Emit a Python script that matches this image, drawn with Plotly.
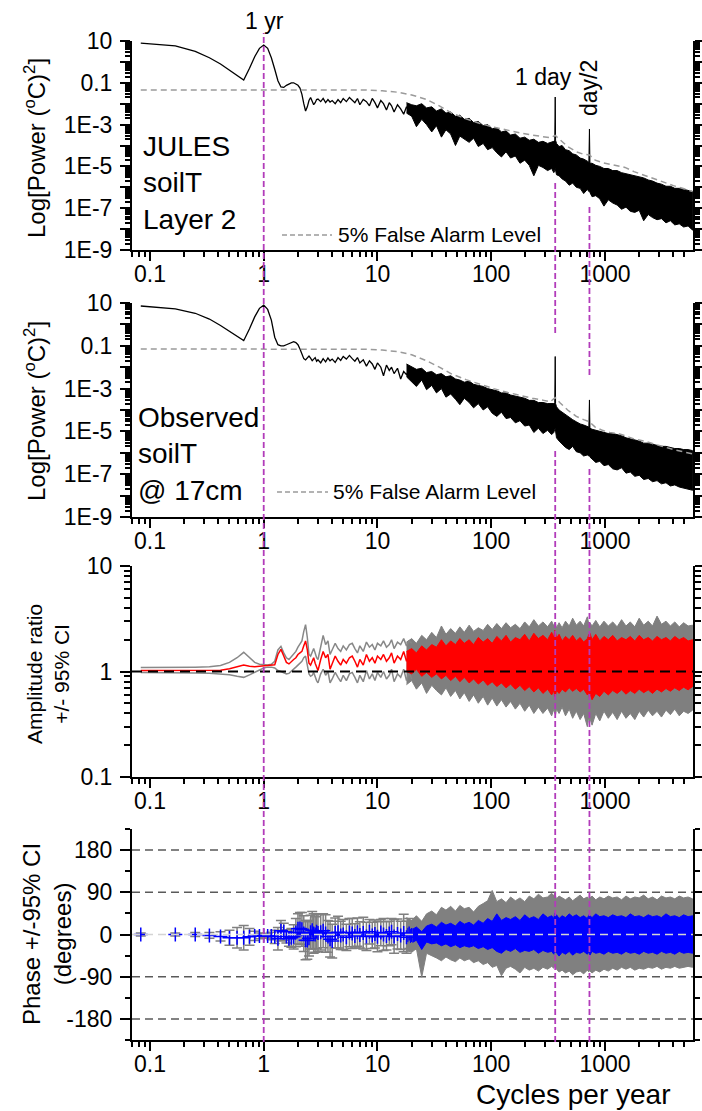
import numpy as np
import plotly.graph_objects as go

W, H = 702, 1111
FONT = "Liberation Sans, Arial, sans-serif"

# ---------------- data ----------------
# low-frequency part: frequencies (cycles per year)
lo_f = [0.083, 0.167, 0.25, 0.333, 0.417, 0.5, 0.583, 0.667, 0.75, 0.833, 0.917, 1.0,
        1.083, 1.167, 1.25, 1.333, 1.417, 1.5, 1.583, 1.667, 1.75, 1.833, 1.917, 2.0,
        2.083, 2.167, 2.25, 2.333, 2.417, 2.5, 2.583, 2.667, 2.75, 2.833, 2.917, 3.0,
        3.17, 3.33, 3.5, 3.67, 3.83, 4.0, 4.25, 4.5, 4.75, 5.0, 5.33, 5.67, 6.0, 6.33,
        6.67, 7.0, 7.5, 8.0, 8.5, 9.0, 9.5, 10.0, 10.7, 11.3, 12.0, 12.7, 13.3, 14.0,
        15.0, 16.0, 17.0, 18.0, 19.0, 20.0]

# log10 power, JULES soilT layer 2
jules_lo = [0.90, 0.77, 0.50, 0.20, -0.10, -0.39, -0.62, -0.87, -0.30, 0.25, 0.65, 0.81,
            0.65, 0.20, -0.35, -0.90, -1.20, -1.22, -1.12, -1.04, -1.00, -1.00, -1.05, -1.12,
            -1.25, -1.55, -2.00, -2.35, -2.15, -1.85, -1.70, -1.85, -2.05, -1.95, -1.80, -1.78,
            -1.90, -1.75, -1.95, -1.80, -1.92, -1.85, -2.00, -1.80, -1.95, -1.75,
            -1.90, -1.70, -1.85, -1.95, -1.75, -2.05, -1.80, -1.90, -2.10, -1.75,
            -1.95, -2.20, -1.85, -2.00, -2.30, -1.95, -2.10, -2.40, -2.05, -2.25,
            -2.50, -2.15, -2.35, -2.60]
# log10 power, observed soilT @ 17cm
obs_lo = [0.86, 0.73, 0.52, 0.25, -0.05, -0.34, -0.55, -0.76, -0.20, 0.35, 0.75, 0.90,
          0.70, 0.20, -0.60, -0.95, -1.00, -1.00, -0.95, -0.90, -0.83, -0.81, -0.85, -0.95,
          -1.15, -1.40, -1.60, -1.66, -1.55, -1.48, -1.58, -1.70, -1.62, -1.55, -1.72, -1.65,
          -1.80, -1.60, -1.75, -1.57, -1.70, -1.62, -1.78, -1.55, -1.68, -1.50,
          -1.62, -1.45, -1.60, -1.72, -1.55, -1.80, -1.65, -1.95, -1.70, -1.85,
          -2.10, -1.80, -2.00, -2.40, -1.90, -2.15, -2.00, -2.30, -2.05, -2.55,
          -2.20, -2.35, -2.10, -2.60]

# high-frequency (dense, noisy) part: frequencies
band_f = [18, 20, 22, 24.5, 27, 30, 33, 36.5, 40, 44, 48.5, 53, 58, 64, 70, 77, 85, 93, 102, 112,
          123, 135, 148, 163, 179, 197, 216, 237, 260, 285, 313, 340, 355, 362, 365.25, 368, 375,
          395, 420, 450, 485, 520, 560, 605, 650, 700, 722, 730.5, 738, 770, 830, 900, 980, 1070,
          1170, 1280, 1400, 1530, 1670, 1830, 2000, 2190, 2400, 2620, 2870, 3140, 3440, 3760,
          4110, 4500, 4920, 5380, 5900]

# log10 power envelopes (upper / lower) of the noisy spectrum, JULES
jules_hi = [-1.95, -2.05, -2.10, -2.00, -2.20, -2.15, -2.35, -2.25, -2.45, -2.40,
            -2.60, -2.55, -2.75, -2.70, -2.90, -2.85, -3.05, -3.00, -3.20, -3.15,
            -3.35, -3.30, -3.50, -3.45, -3.65, -3.60, -3.75, -3.70, -3.85, -3.80,
            -3.90, -3.85, -3.80, -3.75, -1.68, -3.75, -3.90, -4.05, -4.00, -4.20,
            -4.25, -4.40, -4.45, -4.60, -4.65, -4.75, -4.80, -3.21, -4.85, -4.85,
            -4.95, -5.00, -5.10, -5.10, -5.20, -5.20, -5.30, -5.35, -5.40, -5.45,
            -5.50, -5.55, -5.65, -5.70, -5.80, -5.85, -5.95, -5.95, -6.05, -6.05,
            -6.10, -6.15, -6.20]
jules_lw = [-2.45, -2.60, -3.10, -2.75, -3.00, -3.35, -3.05, -3.60, -3.25, -3.45,
            -4.00, -3.55, -3.70, -3.85, -3.65, -4.05, -3.90, -4.20, -4.10, -4.35,
            -4.55, -4.30, -4.60, -4.50, -4.85, -4.70, -4.95, -5.45, -4.95, -5.05,
            -5.20, -5.10, -5.30, -5.20, -5.10, -5.15, -5.40, -5.45, -5.60, -5.70,
            -5.90, -5.80, -6.00, -6.05, -6.30, -6.10, -6.20, -6.15, -6.25, -6.45,
            -6.40, -6.55, -6.90, -6.60, -6.75, -6.85, -7.05, -6.95, -7.15, -7.20,
            -7.10, -7.60, -7.30, -7.45, -7.55, -7.50, -7.70, -7.60, -7.80, -7.75,
            -7.90, -7.85, -8.05]
# observed
obs_hi = [-1.85, -2.00, -2.10, -2.05, -2.25, -2.20, -2.35, -2.30, -2.45, -2.40,
          -2.55, -2.60, -2.70, -2.65, -2.80, -2.85, -2.90, -3.00, -3.05, -3.10,
          -3.20, -3.20, -3.30, -3.35, -3.40, -3.45, -3.55, -3.55, -3.65, -3.65,
          -3.70, -3.72, -3.70, -3.65, -1.50, -3.70, -3.85, -4.00, -4.10, -4.25,
          -4.35, -4.45, -4.55, -4.65, -4.70, -4.75, -4.80, -3.53, -4.85, -4.90,
          -4.95, -5.00, -5.05, -5.10, -5.10, -5.15, -5.20, -5.30, -5.35, -5.40,
          -5.45, -5.55, -5.55, -5.60, -5.65, -5.70, -5.70, -5.75, -5.80, -5.80,
          -5.85, -5.85, -5.90]
obs_lw = [-2.45, -2.70, -2.90, -2.60, -3.05, -2.85, -3.20, -3.00, -3.40, -3.25,
          -3.50, -3.75, -3.45, -3.65, -3.90, -3.70, -4.00, -3.85, -4.15, -4.30,
          -4.10, -4.40, -4.35, -4.60, -4.50, -4.75, -4.70, -5.05, -4.85, -5.10,
          -4.95, -5.15, -5.05, -4.90, -4.85, -5.00, -5.30, -5.45, -5.60, -5.75,
          -5.85, -5.70, -5.95, -6.00, -6.15, -6.10, -6.15, -6.10, -6.20, -6.30,
          -6.45, -6.40, -6.60, -6.55, -6.75, -6.80, -6.70, -6.95, -6.90, -7.10,
          -7.05, -7.25, -7.20, -7.35, -7.30, -7.45, -7.40, -7.55, -7.50, -7.60,
          -7.65, -7.70, -7.75]

# 5% false alarm level (log10 power)
fal_f = [0.083, 5, 8, 11, 15, 20, 27, 35, 45, 60, 80, 105, 140, 180, 230, 290, 330, 365, 400,
         470, 560, 650, 730, 820, 950, 1100, 1300, 1500, 1800, 2200, 2700, 3300, 4000, 4800, 5900]
fal_jules = [-1.34, -1.34, -1.35, -1.38, -1.45, -1.58, -1.80, -2.10, -2.45, -2.72, -2.95, -3.12,
             -3.28, -3.40, -3.50, -3.60, -3.63, -3.52, -3.72, -4.05, -4.30, -4.42, -4.45, -4.70,
             -4.82, -4.90, -5.00, -5.05, -5.25, -5.42, -5.62, -5.78, -5.92, -6.05, -6.20]
fal_obs = [-1.15, -1.15, -1.16, -1.20, -1.27, -1.42, -1.70, -2.00, -2.32, -2.58, -2.80, -3.00,
           -3.18, -3.33, -3.45, -3.55, -3.62, -3.42, -3.65, -4.00, -4.30, -4.45, -4.55, -4.80,
           -4.95, -5.05, -5.10, -5.20, -5.35, -5.45, -5.60, -5.72, -5.85, -5.95, -6.05]

# amplitude ratio (low-frequency part): ratio and 95% CI bounds
amp_lo = [1.02, 1.02, 1.02, 1.02, 1.03, 1.06, 1.10, 1.15, 1.12, 1.11, 1.12, 1.13,
          1.13, 1.14, 1.16, 1.45, 1.62, 1.40, 1.22, 1.18, 1.25, 1.30, 1.35, 1.45,
          1.50, 1.55, 1.75, 1.95, 1.60, 1.20, 1.15, 1.25, 1.35, 1.20, 1.10, 1.02,
          1.30, 1.55, 1.35, 1.45, 1.05, 1.20, 1.40, 1.25, 1.15, 1.30,
          1.20, 1.35, 1.40, 1.25, 1.10, 1.30, 1.15, 1.45, 1.25, 1.35,
          1.20, 1.40, 1.30, 1.45, 1.25, 1.35, 1.50, 1.20, 1.40, 1.30,
          1.55, 1.25, 1.45, 1.30]
amp_lo_up = [1.09, 1.09, 1.10, 1.11, 1.14, 1.22, 1.35, 1.52, 1.35, 1.22, 1.17, 1.15,
             1.15, 1.17, 1.25, 1.60, 1.73, 1.50, 1.35, 1.30, 1.38, 1.45, 1.55, 1.70,
             1.80, 1.95, 2.40, 2.78, 2.10, 1.45, 1.40, 1.55, 1.65, 1.50, 1.35, 1.30,
             1.70, 2.20, 1.80, 1.95, 1.45, 1.60, 1.85, 1.65, 1.55, 1.75,
             1.60, 1.80, 1.85, 1.65, 1.50, 1.75, 1.55, 1.90, 1.70, 1.80,
             1.60, 1.85, 1.75, 1.95, 1.70, 1.80, 2.00, 1.65, 1.90, 1.80,
             2.05, 1.75, 1.95, 1.85]
amp_lo_dn = [0.98, 0.98, 0.97, 0.96, 0.95, 0.93, 0.90, 0.88, 0.93, 0.98, 1.03, 1.08,
             1.10, 1.10, 1.08, 1.02, 1.00, 0.98, 0.95, 0.96, 1.00, 1.05, 1.10, 1.15,
             1.20, 1.25, 1.35, 1.40, 1.15, 0.95, 0.90, 0.92, 0.98, 0.88, 0.82, 0.78,
             0.95, 1.05, 0.92, 1.00, 0.78, 0.85, 0.98, 0.88, 0.80, 0.92,
             0.82, 0.95, 0.98, 0.88, 0.78, 0.92, 0.80, 1.02, 0.85, 0.95,
             0.82, 0.98, 0.88, 1.00, 0.85, 0.92, 1.05, 0.80, 0.95, 0.88,
             1.05, 0.82, 0.98, 0.85]
# amplitude ratio envelopes in the dense part
amp_r_hi = [1.55, 1.65, 1.50, 1.75, 1.60, 1.80, 1.70, 2.00, 1.75, 1.95,
            1.80, 2.05, 1.85, 2.00, 1.80, 2.10, 1.90, 2.05, 1.85, 2.15,
            1.95, 2.20, 1.90, 2.10, 2.00, 2.25, 1.95, 2.30, 2.05, 2.20,
            2.00, 2.35, 2.10, 2.45, 2.20, 2.30, 2.05, 2.25, 1.95, 2.15,
            2.00, 2.20, 1.95, 2.10, 1.90, 2.05, 2.25, 2.10, 2.30, 2.00,
            2.25, 1.95, 2.15, 2.00, 2.20, 1.95, 2.10, 2.00, 2.15, 1.95,
            2.20, 2.00, 2.10, 1.95, 2.15, 2.00, 2.10, 1.95, 2.15, 2.00,
            2.10, 1.95, 2.00]
amp_r_lw = [1.00, 0.95, 1.05, 0.90, 0.98, 0.88, 0.95, 0.85, 0.92, 0.82,
            0.90, 0.80, 0.88, 0.78, 0.85, 0.76, 0.83, 0.74, 0.80, 0.72,
            0.78, 0.70, 0.76, 0.68, 0.74, 0.66, 0.72, 0.64, 0.70, 0.62,
            0.68, 0.60, 0.66, 0.58, 0.62, 0.60, 0.66, 0.62, 0.68, 0.64,
            0.70, 0.65, 0.69, 0.64, 0.68, 0.60, 0.64, 0.56, 0.62, 0.54,
            0.62, 0.58, 0.65, 0.60, 0.66, 0.62, 0.67, 0.61, 0.66, 0.62,
            0.68, 0.63, 0.67, 0.62, 0.68, 0.64, 0.69, 0.65, 0.70, 0.66,
            0.71, 0.67, 0.72]
amp_g_hi = [1.90, 2.05, 1.85, 2.20, 2.00, 2.35, 2.10, 2.70, 2.25, 2.55,
            2.30, 2.65, 2.35, 2.75, 2.40, 2.60, 2.45, 2.80, 2.50, 2.85,
            2.55, 2.90, 2.60, 2.80, 2.55, 2.95, 2.65, 3.10, 2.70, 2.95,
            2.65, 3.00, 2.70, 2.90, 2.75, 2.85, 2.60, 2.90, 2.60, 3.00,
            2.70, 3.20, 2.75, 3.00, 2.70, 3.30, 2.80, 2.65, 2.90, 2.70,
            3.05, 2.65, 3.00, 2.70, 2.95, 2.65, 3.10, 2.70, 2.95, 2.65,
            3.20, 2.75, 3.00, 2.70, 3.35, 2.80, 3.00, 2.70, 2.95, 2.65,
            2.90, 2.70, 2.75]
amp_g_lw = [0.75, 0.82, 0.68, 0.78, 0.62, 0.74, 0.66, 0.60, 0.70, 0.58,
            0.66, 0.55, 0.63, 0.52, 0.60, 0.50, 0.58, 0.48, 0.56, 0.47,
            0.54, 0.46, 0.52, 0.44, 0.50, 0.42, 0.48, 0.40, 0.46, 0.40,
            0.45, 0.38, 0.44, 0.40, 0.42, 0.39, 0.44, 0.40, 0.46, 0.38,
            0.44, 0.36, 0.42, 0.35, 0.40, 0.30, 0.38, 0.33, 0.36, 0.31,
            0.40, 0.34, 0.42, 0.36, 0.41, 0.35, 0.42, 0.36, 0.40, 0.35,
            0.42, 0.37, 0.43, 0.38, 0.42, 0.37, 0.43, 0.39, 0.44, 0.38,
            0.42, 0.40, 0.43]

# phase (degrees) low-frequency part with 95% CI half-width
ph_lo = [0, 0, 0, -2, -4, -7, -7, -7, -5, -3, -3, -2,
         -3, -3, -5, -9, 8, 6, -4, -9, -7, -5, 4, 12,
         13, 11, 2, -12, -13, -8, 5, 9, 2, 0, 6, 3,
         5, 8, 2, -4, -10, -14, 3, 5, -2, 0, -6, 4, 2, -3,
         5, -1, 3, -4, 6, -2, 1, -5, 4, 0, -3, 2, 6, -4,
         1, -2, 3, -6, 2, -1]
ph_err = [3, 3, 4, 6, 10, 16, 22, 26, 18, 10, 6, 4,
          5, 8, 14, 24, 22, 18, 14, 16, 20, 26, 30, 32,
          34, 36, 38, 42, 40, 38, 36, 40, 42, 38, 36, 40,
          38, 36, 40, 34, 38, 36, 32, 34, 30, 32, 28, 30, 32, 26,
          30, 28, 34, 30, 26, 28, 30, 32, 28, 34, 30, 26, 28, 36,
          32, 30, 40, 34, 32, 30]
# phase envelopes in the dense part: CI (gray) and phase (blue)
ph_g_hi = [36, 30, 40, 28, 44, 50, 42, 58, 52, 60, 50, 62, 55, 58, 48, 60, 66, 72, 94, 70,
           76, 68, 80, 72, 78, 70, 82, 76, 86, 78, 80, 88, 82, 90, 84, 80, 76, 82, 78, 74,
           80, 72, 78, 84, 76, 80, 74, 86, 78, 82, 74, 80, 76, 82, 78, 80, 74, 82, 76, 80,
           78, 84, 76, 80, 74, 82, 78, 80, 76, 82, 78, 80, 76]
ph_g_lw = [-34, -38, -30, -91, -40, -46, -50, -56, -48, -54, -58, -50, -56, -52, -60, -56,
           -64, -60, -70, -66, -88, -72, -68, -74, -82, -70, -76, -72, -78, -70, -74, -68,
           -72, -66, -70, -68, -74, -80, -76, -82, -78, -86, -80, -78, -84, -76, -80, -74,
           -78, -82, -76, -80, -74, -78, -72, -76, -70, -74, -70, -76, -72, -74, -70, -72,
           -68, -74, -70, -72, -68, -72, -70, -68, -70]
ph_b_hi = [14, 10, 16, 6, 18, 22, 16, 26, 20, 24, 18, 28, 22, 26, 20, 30, 24, 34, 28, 44,
           30, 36, 32, 38, 30, 42, 34, 38, 32, 44, 36, 40, 34, 46, 38, 36, 42, 34, 40, 36,
           44, 38, 42, 36, 40, 34, 42, 38, 40, 36, 44, 38, 40, 36, 42, 38, 40, 36, 44, 38,
           40, 36, 42, 38, 40, 36, 44, 38, 40, 36, 42, 38, 40]
ph_b_lw = [-14, -18, -12, -32, -16, -20, -18, -24, -20, -26, -22, -28, -24, -27, -24, -30,
           -26, -32, -28, -36, -40, -32, -36, -30, -38, -34, -36, -32, -40, -34, -38, -36,
           -42, -34, -38, -36, -40, -46, -38, -42, -36, -44, -38, -40, -36, -42, -38, -40,
           -44, -36, -40, -38, -42, -36, -40, -38, -42, -36, -40, -38, -42, -36, -40, -38,
           -42, -36, -40, -38, -42, -36, -40, -38, -40]

# reference periods marked on the chart
mark_f = [1.0, 365.25, 730.5]

for arr in [jules_lo, obs_lo, amp_lo, amp_lo_up, amp_lo_dn, ph_lo, ph_err]:
    assert len(arr) == len(lo_f), len(arr)
for arr in [jules_hi, jules_lw, obs_hi, obs_lw, amp_r_hi, amp_r_lw, amp_g_hi, amp_g_lw,
            ph_g_hi, ph_g_lw, ph_b_hi, ph_b_lw]:
    assert len(arr) == len(band_f), len(arr)
assert len(fal_jules) == len(fal_f) and len(fal_obs) == len(fal_f)

# ---------------- helpers ----------------
def P(v):
    return (10.0 ** np.array(v, dtype=float)).tolist()

def pxx(x):
    return x / W

def pyy(y):
    return 1 - y / H

def band(xs, hi, lo):
    return list(xs) + list(xs)[::-1], list(hi) + list(lo)[::-1]

PURPLE = "#B23CBA"
fig = go.Figure()

# ---------------- panels 1 and 2: power spectra ----------------
for k, (low, hi, lw, fal) in enumerate([(jules_lo, jules_hi, jules_lw, fal_jules),
                                         (obs_lo, obs_hi, obs_lw, fal_obs)]):
    xa, ya = ("x", "y") if k == 0 else ("x2", "y2")
    bx, by = band(band_f, P(hi), P(lw))
    fig.add_trace(go.Scatter(x=bx, y=by, fill="toself", fillcolor="black", mode="lines",
                             line=dict(color="black", width=1), xaxis=xa, yaxis=ya))
    fig.add_trace(go.Scatter(x=lo_f, y=P(low), mode="lines", line=dict(color="black", width=1.3),
                             xaxis=xa, yaxis=ya))
    fig.add_trace(go.Scatter(x=fal_f, y=P(fal), mode="lines",
                             line=dict(color="#9a9a9a", width=1.5, dash="6px,4px"),
                             xaxis=xa, yaxis=ya))

# ---------------- panel 3: amplitude ratio ----------------
bx, by = band(band_f, amp_g_hi, amp_g_lw)
fig.add_trace(go.Scatter(x=bx, y=by, fill="toself", fillcolor="#7f7f7f", mode="lines",
                         line=dict(color="#7f7f7f", width=1), xaxis="x3", yaxis="y3"))
fig.add_trace(go.Scatter(x=lo_f, y=amp_lo_up, mode="lines", line=dict(color="#888888", width=1.5),
                         xaxis="x3", yaxis="y3"))
fig.add_trace(go.Scatter(x=lo_f, y=amp_lo_dn, mode="lines", line=dict(color="#888888", width=1.5),
                         xaxis="x3", yaxis="y3"))
bx, by = band(band_f, amp_r_hi, amp_r_lw)
fig.add_trace(go.Scatter(x=bx, y=by, fill="toself", fillcolor="#ff0000", mode="lines",
                         line=dict(color="#ff0000", width=1), xaxis="x3", yaxis="y3"))
fig.add_trace(go.Scatter(x=lo_f, y=amp_lo, mode="lines", line=dict(color="#ff0000", width=1.5),
                         xaxis="x3", yaxis="y3"))

# ---------------- panel 4: phase ----------------
bx, by = band(band_f, ph_g_hi, ph_g_lw)
fig.add_trace(go.Scatter(x=bx, y=by, fill="toself", fillcolor="#808080", mode="lines",
                         line=dict(color="#808080", width=1), xaxis="x4", yaxis="y4"))
bx, by = band(band_f, ph_b_hi, ph_b_lw)
fig.add_trace(go.Scatter(x=bx, y=by, fill="toself", fillcolor="#0000ff", mode="lines",
                         line=dict(color="#0000ff", width=1), xaxis="x4", yaxis="y4"))
fig.add_trace(go.Scatter(x=lo_f, y=ph_lo, mode="markers",
                         marker=dict(symbol="cross-thin", size=10, line=dict(color="#0000ff", width=1.5)),
                         error_y=dict(type="data", array=ph_err, visible=True, color="#808080",
                                      thickness=1.5, width=5),
                         xaxis="x4", yaxis="y4"))

# ---------------- axes ----------------
XD = [132 / W, 693 / W]
XR = [-1.158, 3.774]
xmajor = [0.1, 1, 10, 100, 1000]
xminor = [m * 10.0 ** e for e in range(-2, 4) for m in range(2, 10) if 0.07 <= m * 10.0 ** e <= 6000]
ymin_pow = [m * 10.0 ** e for e in range(-9, 1) for m in range(2, 10)]

tickfont = dict(family=FONT, size=23, color="black")
base = dict(showline=True, linecolor="black", linewidth=2, ticks="outside", tickcolor="black",
            tickwidth=1.5, showgrid=False, zeroline=False, tickfont=tickfont, automargin=False)

def xaxis(anchor):
    return dict(base, type="log", range=XR, domain=XD, anchor=anchor, tickmode="array",
                tickvals=xmajor, ticktext=["0.1", "1", "10", "100", "1000"], ticklen=9,
                ticklabelstandoff=-7, mirror=False,
                minor=dict(tickmode="array", tickvals=xminor, ticklen=5, tickwidth=1.5,
                           tickcolor="black", ticks="outside"))

pow_vals = [10.0 ** e for e in range(-9, 2)]
pow_text = ["1E-9", "", "1E-7", "", "1E-5", "", "1E-3", "", "0.1", "", "10"]

def ypow(dom, anchor):
    return dict(base, type="log", range=[-9, 1], domain=dom, anchor=anchor, tickmode="array",
                tickvals=pow_vals, ticktext=pow_text, ticklen=10, mirror="ticks",
                ticklabelstandoff=3,
                minor=dict(tickmode="array", tickvals=ymin_pow, ticklen=5, tickwidth=1.5,
                           tickcolor="black", ticks="outside"))

fig.update_layout(
    width=W, height=H, margin=dict(l=0, r=0, t=0, b=0, pad=0, autoexpand=False),
    paper_bgcolor="white", plot_bgcolor="white", showlegend=False,
    font=dict(family=FONT, color="black"),
    xaxis=xaxis("y"), xaxis2=xaxis("y2"), xaxis3=xaxis("y3"), xaxis4=xaxis("y4"),
    yaxis=ypow([pyy(250), pyy(41)], "x"),
    yaxis2=ypow([pyy(517), pyy(303)], "x2"),
    yaxis3=dict(base, type="log", range=[-1, 1], domain=[pyy(777), pyy(566)], anchor="x3",
                tickmode="array", tickvals=[0.1, 1, 10], ticktext=["0.1", "1", "10"], ticklen=10,
                mirror="ticks", ticklabelstandoff=3,
                minor=dict(tickmode="array",
                           tickvals=[m * 10.0 ** e for e in (-1, 0) for m in range(2, 10)],
                           ticklen=6, tickwidth=1.5, tickcolor="black", ticks="outside")),
    yaxis4=dict(base, range=[-225, 225], domain=[pyy(1040), pyy(829)], anchor="x4",
                tickmode="array", tickvals=[-180, -90, 0, 90, 180],
                ticktext=["-180", "-90", "0", "90", "180"], ticklen=10, mirror="ticks",
                ticklabelstandoff=3,
                minor=dict(tickmode="array", tickvals=[-225, -135, -45, 45, 135, 225], ticklen=5,
                           tickwidth=1.5, tickcolor="black", ticks="outside")),
)

# ---------------- reference lines ----------------
shapes = []
for v in [-180, -90, 90, 180]:
    shapes.append(dict(type="line", xref="x4 domain", x0=0, x1=1, yref="y4", y0=v, y1=v,
                       line=dict(color="#5a5a5a", width=1.5, dash="8px,5px"), layer="below"))
shapes.append(dict(type="line", xref="x4 domain", x0=0, x1=1, yref="y4", y0=0, y1=0,
                   line=dict(color="#d4d4d4", width=1.5, dash="8px,5px"), layer="above"))
shapes.append(dict(type="line", xref="x3 domain", x0=0, x1=1, yref="y3", y0=1, y1=1,
                   line=dict(color="black", width=1.8, dash="10px,6px"), layer="above"))
# vertical period markers (1 yr, 1 day, day/2)
segs = {0: [(33, 1042)], 1: [(180, 333), (448, 1042)], 2: [(207, 375), (468, 1042)]}
for i, f in enumerate(mark_f):
    for (a, b) in segs[i]:
        shapes.append(dict(type="line", xref="x", x0=f, x1=f, yref="paper", y0=pyy(b), y1=pyy(a),
                           line=dict(color=PURPLE, width=1.8, dash="6px,3px"), layer="above"))
# dashed legend samples
for (x0, x1, yy) in [(282, 332, 235), (277, 328, 492)]:
    shapes.append(dict(type="line", xref="paper", yref="paper", x0=pxx(x0), x1=pxx(x1),
                       y0=pyy(yy), y1=pyy(yy),
                       line=dict(color="#9a9a9a", width=1.5, dash="5px,3px")))
fig.update_layout(shapes=shapes)

# ---------------- text ----------------
def ann(text, x, y, size, xanchor="center", angle=0, align="center"):
    return dict(text=text, x=pxx(x), y=pyy(y), xref="paper", yref="paper", showarrow=False,
                xanchor=xanchor, yanchor="middle", textangle=angle, align=align,
                font=dict(family=FONT, size=size, color="black"))

anns = [
    ann("1 yr", 264, 21, 23),
    ann("1 day", 543, 77, 23),
    ann("day/2", 589, 88, 23, angle=-90),
    ann("JULES<br>soilT<br>Layer 2", 141, 183, 28, xanchor="left", align="left"),
    ann("Observed<br>soilT<br>@ 17cm", 136, 454, 28, xanchor="left", align="left"),
    ann("Log[Power (<sup>o</sup>C)<sup>2</sup>]", 35, 148, 24, angle=-90),
    ann("Log[Power (<sup>o</sup>C)<sup>2</sup>]", 35, 411, 24, angle=-90),
    ann("Amplitude ratio<br>+/- 95% CI", 48, 674, 21, angle=-90),
    ann("Phase +/-95% CI<br>(degrees)", 47, 934, 24, angle=-90),
    ann("Cycles per year", 573, 1094, 28),
    ann("5% False Alarm Level", 336, 235, 21, xanchor="left"),
    ann("5% False Alarm Level", 331, 492, 21, xanchor="left"),
]
fig.update_layout(annotations=anns)

fig.write_html("out.html")
